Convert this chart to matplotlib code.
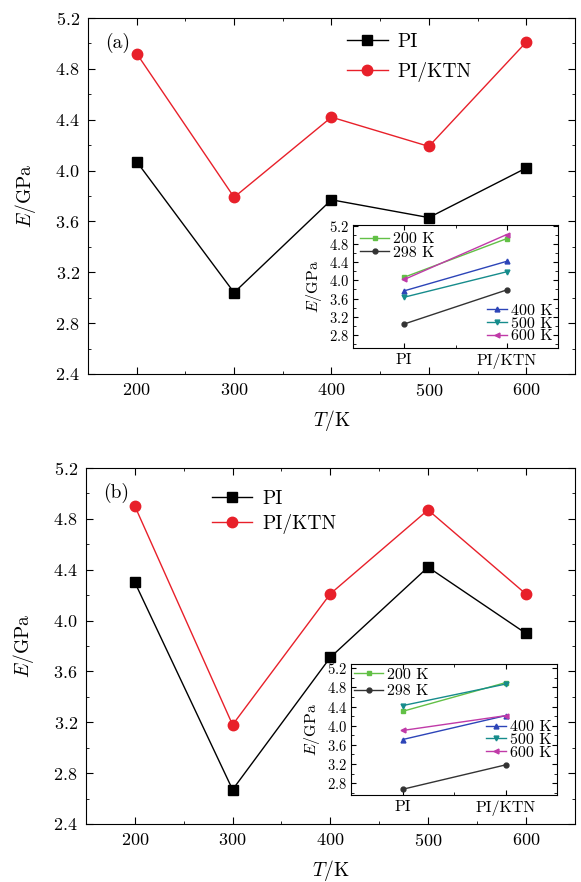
import matplotlib
matplotlib.use('Agg')
import matplotlib.pyplot as plt
import numpy as np
from matplotlib.ticker import MultipleLocator

plt.rcParams['font.family'] = 'cmr10'
plt.rcParams['mathtext.fontset'] = 'cm'
plt.rcParams['axes.formatter.use_mathtext'] = True

# datos
T = [200, 300, 400, 500, 600]
E_PI_a = [4.07, 3.04, 3.77, 3.63, 4.02]
E_KTN_a = [4.92, 3.79, 4.42, 4.19, 5.01]
E_PI_b = [4.30, 2.67, 3.71, 4.42, 3.90]
E_KTN_b = [4.90, 3.18, 4.21, 4.87, 4.21]

temp_labels = ['200 K', '298 K', '400 K', '500 K', '600 K']
muestras = ['PI', 'PI/KTN']

colores = ['#62c046', '#333333', '#2c44b8', '#168c8c', '#c03aa8']
marcadores = ['s', 'o', '^', 'v', '<']
rojo = '#e8202a'


def panel(ax, pi, ktn, letra, leg_x, leg_y, leg_sp):
    ax.plot(T, pi, '-', color='black', marker='s', ms=7, lw=1.0, label='PI')
    ax.plot(T, ktn, '-', color=rojo, marker='o', ms=7.5, lw=1.0, label='PI/KTN')
    ax.set_xlim(150, 650)
    ax.set_ylim(2.4, 5.2)
    ax.xaxis.set_major_locator(MultipleLocator(100))
    ax.xaxis.set_minor_locator(MultipleLocator(50))
    ax.yaxis.set_major_locator(MultipleLocator(0.4))
    ax.yaxis.set_minor_locator(MultipleLocator(0.2))
    ax.tick_params(which='both', direction='in', top=True, right=True, labelsize=13)
    ax.tick_params(which='major', length=5, pad=6)
    ax.tick_params(which='minor', length=2.5)
    ax.set_xlabel(r'$T/\mathrm{K}$', fontsize=14, labelpad=6)
    ax.set_ylabel(r'$E/\mathrm{GPa}$', fontsize=14, labelpad=12)
    ax.text(0.035, 0.93, letra, transform=ax.transAxes, fontsize=14, va='center')
    ax.legend(loc='upper left', bbox_to_anchor=(leg_x, leg_y), frameon=False, fontsize=14,
              handlelength=2.1, handletextpad=0.5, labelspacing=leg_sp,
              borderpad=0.2, borderaxespad=0.3)


def inset(ax, pi, ktn, ylim, sp1, pad1, low_loc, low_anchor):
    lineas = []
    for i in range(5):
        l, = ax.plot([0, 1], [pi[i], ktn[i]], '-', color=colores[i], marker=marcadores[i],
                     ms=3.5, lw=1.0, label=temp_labels[i])
        lineas.append(l)
    ax.set_xlim(-0.5, 1.5)
    ax.set_ylim(*ylim)
    ax.set_xticks([0, 1])
    ax.set_xticklabels(muestras)
    ax.xaxis.set_minor_locator(MultipleLocator(0.5))
    ax.yaxis.set_minor_locator(MultipleLocator(0.2))
    ax.set_yticks(np.arange(2.8, 5.3, 0.4))
    ax.tick_params(which='both', direction='in', top=True, right=True)
    ax.tick_params(axis='y', labelsize=10.5, pad=3)
    ax.tick_params(axis='x', labelsize=11.5, pad=4)
    ax.tick_params(which='major', length=3.5)
    ax.tick_params(which='minor', length=2)
    ax.set_ylabel(r'$E/\mathrm{GPa}$', fontsize=11.5, labelpad=3)
    leg1 = ax.legend(handles=lineas[:2], loc='upper left', frameon=False, fontsize=11.5,
                     handlelength=1.8, handletextpad=0.25, labelspacing=sp1,
                     borderpad=0.0, borderaxespad=pad1)
    ax.add_artist(leg1)
    ax.legend(handles=lineas[2:], loc=low_loc, bbox_to_anchor=low_anchor,
              frameon=False, fontsize=11.5,
              handlelength=1.3, handletextpad=0.25, labelspacing=-0.1,
              borderpad=0.0, borderaxespad=0.3)


fig = plt.figure(figsize=(5.81, 8.82), dpi=100)

ax1 = fig.add_axes([0.1515, 0.576, 0.838, 0.4036])
panel(ax1, E_PI_a, E_KTN_a, '(a)', 0.512, 0.985, 0.55)
ax1i = fig.add_axes([0.6076, 0.6054, 0.3528, 0.1395])
inset(ax1i, E_PI_a, E_KTN_a, (2.51, 5.22), -0.05, 0.45, 'lower right', (1.0, 0.0))

ax2 = fig.add_axes([0.148, 0.0658, 0.841, 0.4036])
panel(ax2, E_PI_b, E_KTN_b, '(b)', 0.237, 0.965, 0.3)
ax2i = fig.add_axes([0.6042, 0.0986, 0.3545, 0.148])
inset(ax2i, E_PI_b, E_KTN_b, (2.55, 5.28), 0.15, 0.2, 'upper right', (1.0, 0.61))

fig.savefig('out.png', dpi=100)
